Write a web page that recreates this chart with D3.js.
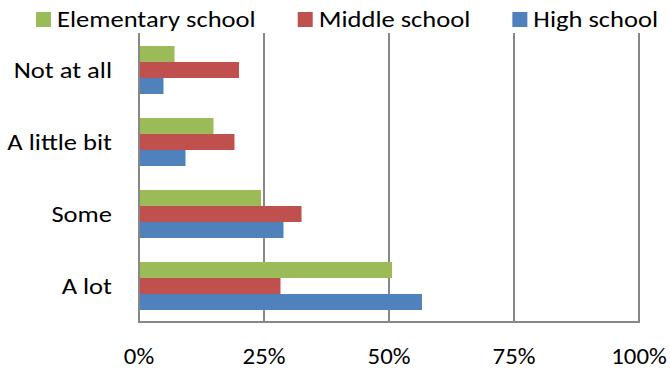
<!DOCTYPE html>
<html>
<head>
<meta charset="utf-8">
<script src="https://cdn.jsdelivr.net/npm/d3@7"></script>
<style>
  html, body { margin: 0; padding: 0; background: #fff; }
  svg { display: block; }
  text { font-family: Carlito, Calibri, Lato, sans-serif; fill: #000; }
</style>
</head>
<body>
<svg id="chart" width="670" height="369"></svg>
<script>
const categories = ["Not at all", "A little bit", "Some", "A lot"];
const seriesNames = ["Elementary school", "Middle school", "High school"];
const seriesColors = ["#9BBB59", "#C0504D", "#4F81BD"];
const elementary = [0.071, 0.149, 0.244, 0.506];
const middle = [0.200, 0.191, 0.325, 0.283];
const high = [0.049, 0.093, 0.289, 0.566];
const tickValues = [0, 0.25, 0.5, 0.75, 1];
const tickLabels = ["0%", "25%", "50%", "75%", "100%"];

const seriesValues = [elementary, middle, high];
const fontSize = 23;
const labelStretch = 1.155;
const tickStretch = 1.08;

const svg = d3.select("#chart");
const plot = { left: 139, right: 639, top: 34, bottom: 322 };

const x = d3.scaleLinear().domain([0, 1]).range([plot.left, plot.right]);
const y = d3.scaleBand().domain(categories).range([plot.top, plot.bottom])
  .paddingInner(1/3).paddingOuter(1/6);
const ySub = d3.scaleBand().domain(seriesNames).range([0, y.bandwidth()]).padding(0);

// gridlines
svg.append("g").selectAll("line").data(tickValues.slice(1)).join("line")
  .attr("x1", d => x(d)).attr("x2", d => x(d))
  .attr("y1", plot.top - 1).attr("y2", plot.bottom)
  .attr("stroke", "#878787").attr("stroke-width", 2);

// bars
const groups = svg.append("g").selectAll("g").data(categories).join("g")
  .attr("transform", d => `translate(0,${y(d)})`);
groups.selectAll("rect")
  .data((c, i) => seriesNames.map((s, j) => ({ s, j, v: seriesValues[j][i] })))
  .join("rect")
  .attr("x", x(0))
  .attr("y", d => ySub(d.s))
  .attr("width", d => x(d.v) - x(0))
  .attr("height", ySub.bandwidth())
  .attr("fill", d => seriesColors[d.j]);

// axes lines
svg.append("line").attr("x1", plot.left).attr("x2", plot.left)
  .attr("y1", plot.top - 1).attr("y2", plot.bottom + 1)
  .attr("stroke", "#878787").attr("stroke-width", 2);
svg.append("line").attr("x1", plot.left - 1).attr("x2", plot.right + 1)
  .attr("y1", plot.bottom).attr("y2", plot.bottom)
  .attr("stroke", "#878787").attr("stroke-width", 2);

// x tick labels
svg.append("g").selectAll("text").data(tickValues).join("text")
  .attr("transform", d => `translate(${x(d)},364) scale(${tickStretch},1)`)
  .attr("text-anchor", "middle")
  .style("font-size", fontSize + "px")
  .text((d, i) => tickLabels[i]);

// category labels
svg.append("g").selectAll("text").data(categories).join("text")
  .attr("transform", d => `translate(112,${y(d) + y.bandwidth() / 2 + 8}) scale(${labelStretch},1)`)
  .attr("text-anchor", "end")
  .style("font-size", fontSize + "px")
  .text(d => d);

// legend
const legend = svg.append("g");
let lx = 36;
seriesNames.forEach((name, i) => {
  legend.append("rect").attr("x", lx).attr("y", 12).attr("width", 15).attr("height", 15)
    .attr("fill", seriesColors[i]);
  const t = legend.append("text")
    .attr("transform", `translate(${lx + 21},27) scale(${labelStretch},1)`)
    .style("font-size", fontSize + "px").text(name);
  lx = lx + 21 + t.node().getComputedTextLength() * labelStretch + 42;
});
</script>
</body>
</html>
